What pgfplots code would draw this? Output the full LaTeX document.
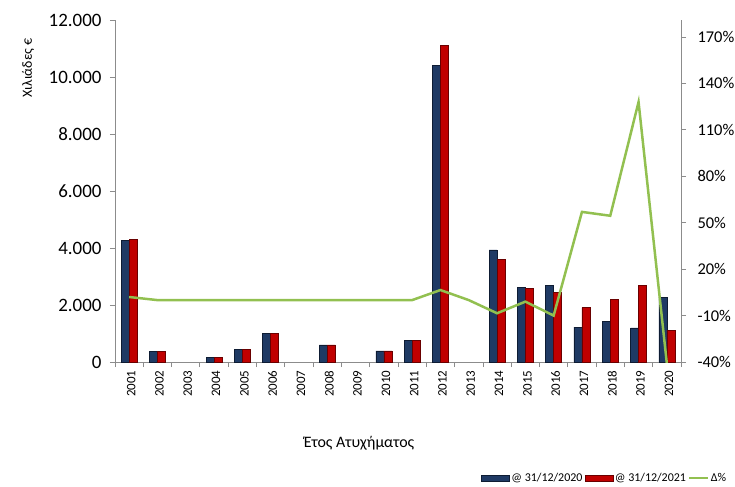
\documentclass[border=0pt]{standalone}
\usepackage{fontspec}
\setmainfont{Carlito}
\usepackage{pgfplots}
\usepackage{pgfplotstable}
\pgfplotsset{compat=1.18}

\definecolor{navy}{HTML}{1F3A64}
\definecolor{navyedge}{HTML}{0E1C33}
\definecolor{dred}{HTML}{C00000}
\definecolor{dredge}{HTML}{6A0000}
\definecolor{lgreen}{HTML}{92C050}
\definecolor{axgray}{HTML}{8C8C8C}

% year index, @31/12/2020, @31/12/2021, delta %
\pgfplotstableread{
x a b d
1 4260 4310 2
2 370 370 0
3 nan nan 0
4 160 160 0
5 440 430 0
6 1010 1000 0
7 nan nan 0
8 600 600 0
9 nan nan 0
10 390 390 0
11 770 770 0
12 10420 11100 6.5
13 nan nan 0
14 3930 3600 -8.5
15 2610 2590 -1
16 2700 2450 -10
17 1220 1905 57
18 1415 2200 54.5
19 1195 2680 128
20 2270 1110 -41
}\data

\begin{document}
\begin{tikzpicture}
\useasboundingbox (-115bp,-125bp) rectangle (620bp,362bp);

\begin{axis}[
    at={(0,0)}, anchor=south west,
    scale only axis, width=566bp, height=342bp,
    xmin=0.5, xmax=20.5, ymin=0, ymax=12000,
    axis x line*=bottom, axis y line*=left,
    axis line style={axgray, line width=0.8bp},
    ybar=0pt, bar width=8bp,
    xtick={1,...,20},
    xticklabels={2001,2002,2003,2004,2005,2006,2007,2008,2009,2010,
                 2011,2012,2013,2014,2015,2016,2017,2018,2019,2020},
    major x tick style={draw=none},
    minor xtick={0.5,1.5,...,20.5},
    minor x tick style={axgray, line width=0.8bp},
    minor tick length=5bp,
    major tick length=5bp,
    tick align=outside,
    y tick style={axgray, line width=0.8bp},
    x tick label style={rotate=90, anchor=east, yshift=-2bp,
        font=\fontsize{13}{15}\selectfont},
    ytick={0,2000,4000,6000,8000,10000,12000},
    y tick label style={xshift=-5bp, font=\fontsize{19}{21}\selectfont},
    /pgf/number format/assume math mode=true,
    /pgf/number format/1000 sep={.},
    scaled y ticks=false,
]
\addplot[fill=navy, draw=navyedge, line width=0.5bp] table[x=x, y=a]{\data};
\addplot[fill=dred, draw=dredge, line width=0.5bp] table[x=x, y=b]{\data};
\end{axis}

\begin{axis}[
    at={(0,0)}, anchor=south west,
    scale only axis, width=566bp, height=342bp,
    xmin=0.5, xmax=20.5, ymin=-40, ymax=181,
    axis x line=none, axis y line*=right,
    axis line style={axgray, line width=0.8bp},
    tick align=outside, major tick length=5bp,
    y tick style={axgray, line width=0.8bp},
    ytick={-40,-10,20,50,80,110,140,170},
    yticklabel={\pgfmathprintnumber{\tick}\%},
    y tick label style={xshift=8bp, font=\fontsize{16.5}{18}\selectfont},
    /pgf/number format/assume math mode=true,
    legend columns=3,
    legend style={draw=none, fill=none, at={(1.083,-0.339)}, anchor=east,
        font=\fontsize{12}{14}\selectfont, inner sep=0pt,
        nodes={inner sep=1.5bp},
        /tikz/every even column/.append style={column sep=1bp}},
]
\addlegendimage{legend image code/.code={\draw[fill=navy, draw=navyedge] (0bp,-3bp) rectangle (28bp,3bp);}}
\addlegendentry{@ 31/12/2020}
\addlegendimage{legend image code/.code={\draw[fill=dred, draw=dredge] (0bp,-3bp) rectangle (28bp,3bp);}}
\addlegendentry{@ 31/12/2021}
\addplot[lgreen, line width=2.5bp, mark=none,
    legend image code/.code={\draw[lgreen, line width=2bp] (0bp,0bp) -- (19bp,0bp);}]
    table[x=x, y=d]{\data};
\addlegendentry{Δ\%}
\end{axis}

\node[rotate=90, font=\fontsize{14}{16}\selectfont] at (-87bp,294bp) {Χιλιάδες €};
\node[font=\fontsize{16}{18}\selectfont] at (244bp,-81bp) {Έτος Ατυχήματος};
\end{tikzpicture}
\end{document}
